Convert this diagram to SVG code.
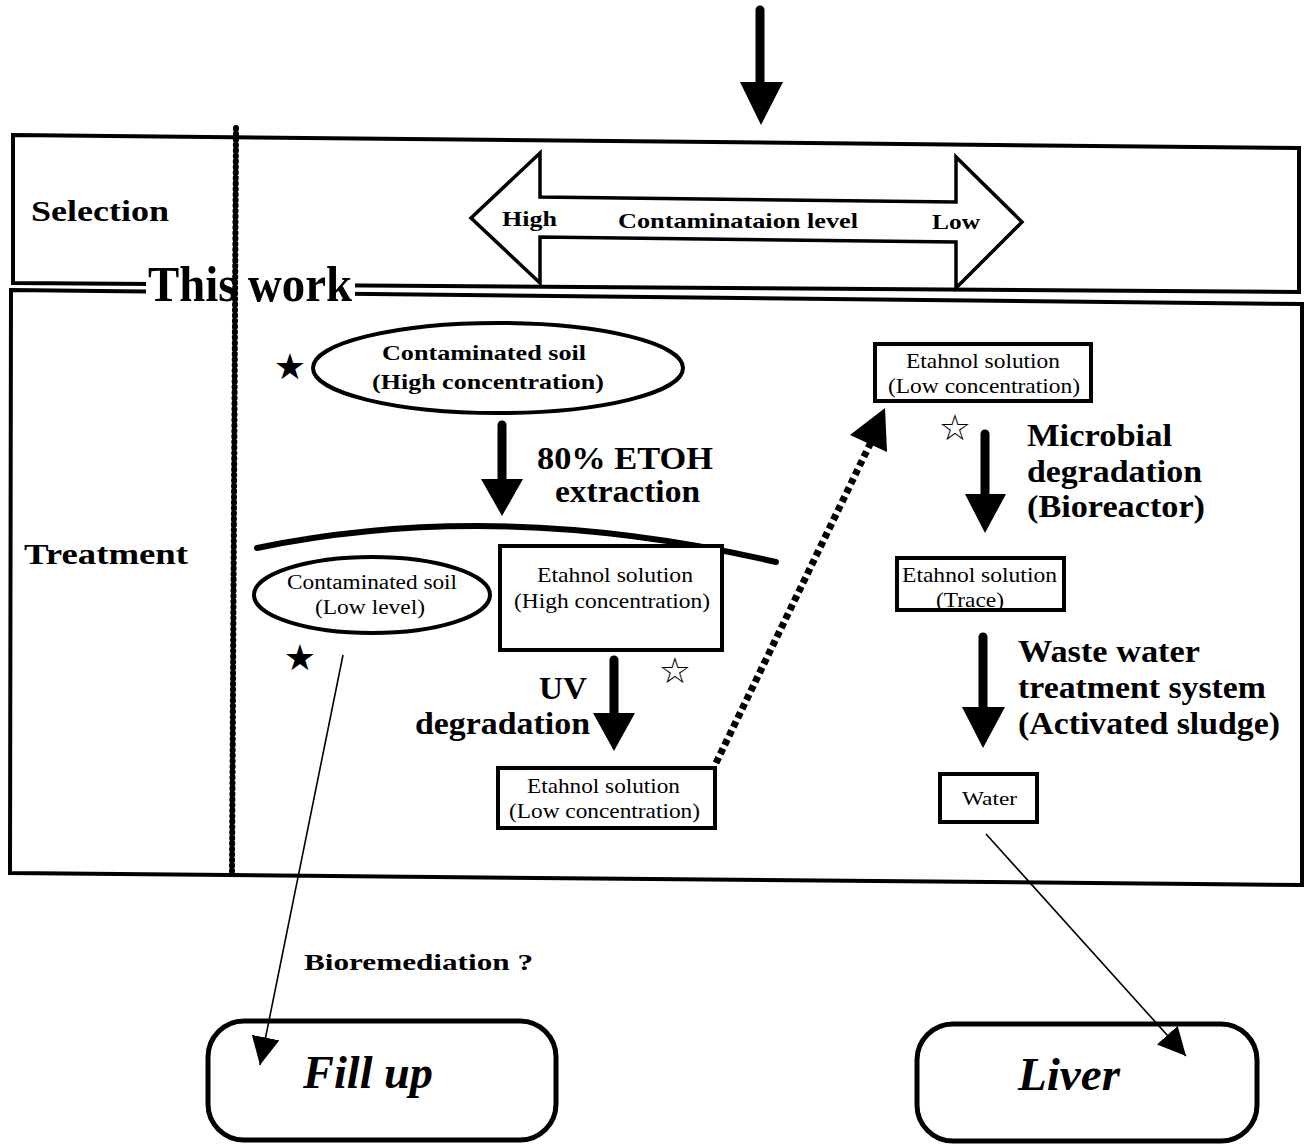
<svg xmlns="http://www.w3.org/2000/svg" width="1310" height="1144" viewBox="0 0 1310 1144">
<defs>
<style>
.b{font-family:"Liberation Serif","Times New Roman",serif;font-weight:bold;fill:#000}
.n{font-family:"Liberation Serif","Times New Roman",serif;fill:#000}
.box{fill:#fff;stroke:#000;stroke-width:4}
.thin{fill:none;stroke:#000;stroke-width:1.6}
.sym{font-family:"DejaVu Sans",sans-serif;fill:#000}
</style>
<marker id="ah" viewBox="0 0 10 10" refX="10" refY="5" markerWidth="28" markerHeight="28" markerUnits="userSpaceOnUse" orient="auto">
<path d="M0,0 L10,5 L0,10 z" fill="#000"/>
</marker>
</defs>
<rect width="1310" height="1144" fill="#fff"/>

<!-- frames -->
<g id="selection-panel">
<polygon points="13,135 1299,148 1299,292 13,283" fill="none" stroke="#000" stroke-width="4"/>
<text class="b" x="31" y="221" font-size="30" textLength="138" lengthAdjust="spacingAndGlyphs">Selection</text>
</g>
<g id="treatment-panel">
<polygon points="11,290 1302,304 1302,885 10,873" fill="none" stroke="#000" stroke-width="4"/>
<text class="b" x="24" y="564" font-size="30" textLength="164" lengthAdjust="spacingAndGlyphs">Treatment</text>
</g>
<g id="this-work">
<rect x="146" y="262" width="209" height="44" fill="#fff"/>
<line x1="236" y1="128" x2="232" y2="873" stroke="#000" stroke-width="6" stroke-linecap="round" stroke-dasharray="1 4.5"/>
<text class="b" x="148" y="301" font-size="50" textLength="204" lengthAdjust="spacingAndGlyphs">This work</text>
</g>

<g id="contamination-arrow">
<polygon points="471,218 540,153 540,197 956,202 956,157 1022,222 956,288 956,242 540,237 540,283" fill="#fff" stroke="#000" stroke-width="3.5" stroke-linejoin="miter"/>
<text class="b" x="502" y="226" font-size="22" textLength="55" lengthAdjust="spacingAndGlyphs">High</text>
<text class="b" x="618" y="228" font-size="22" textLength="240" lengthAdjust="spacingAndGlyphs">Contaminataion level</text>
<text class="b" x="932" y="229" font-size="22" textLength="48" lengthAdjust="spacingAndGlyphs">Low</text>
</g>

<!-- connectors -->
<g id="connectors">
<line x1="760" y1="10" x2="760" y2="84" stroke="#000" stroke-width="9" stroke-linecap="round"/>
<polygon points="740,82 783,82 761,125" fill="#000"/>

<line x1="502" y1="425" x2="502" y2="482" stroke="#000" stroke-width="9" stroke-linecap="round"/>
<polygon points="481,479 523,479 502,516" fill="#000"/>

<path d="M257,548 Q500,498 776,562" fill="none" stroke="#000" stroke-width="6" stroke-linecap="round"/>

<line x1="614" y1="660" x2="614" y2="716" stroke="#000" stroke-width="9" stroke-linecap="round"/>
<polygon points="593,713 635,713 614,751" fill="#000"/>

<line x1="716" y1="763" x2="872" y2="440" stroke="#000" stroke-width="7" stroke-dasharray="6 4"/>
<polygon points="885,408 887,452 850,435" fill="#000"/>

<line x1="985" y1="434" x2="985" y2="497" stroke="#000" stroke-width="9" stroke-linecap="round"/>
<polygon points="965,494 1006,494 985,533" fill="#000"/>

<line x1="983" y1="637" x2="983" y2="710" stroke="#000" stroke-width="9" stroke-linecap="round"/>
<polygon points="962,707 1005,707 983,748" fill="#000"/>

<line class="thin" x1="343" y1="655" x2="260" y2="1065" marker-end="url(#ah)"/>
<line class="thin" x1="986" y1="834" x2="1186" y2="1056" marker-end="url(#ah)"/>

<text class="b" x="537" y="469" font-size="32" textLength="176" lengthAdjust="spacingAndGlyphs">80% ETOH</text>
<text class="b" x="555" y="502" font-size="32" textLength="145" lengthAdjust="spacingAndGlyphs">extraction</text>
<text class="b" x="539" y="699" font-size="31" textLength="48" lengthAdjust="spacingAndGlyphs">UV</text>
<text class="b" x="415" y="734" font-size="31" textLength="175" lengthAdjust="spacingAndGlyphs">degradation</text>
<text class="b" x="1027" y="446" font-size="31" textLength="145" lengthAdjust="spacingAndGlyphs">Microbial</text>
<text class="b" x="1027" y="482" font-size="31" textLength="175" lengthAdjust="spacingAndGlyphs">degradation</text>
<text class="b" x="1027" y="517" font-size="31" textLength="178" lengthAdjust="spacingAndGlyphs">(Bioreactor)</text>
<text class="b" x="1018" y="662" font-size="31" textLength="182" lengthAdjust="spacingAndGlyphs">Waste water</text>
<text class="b" x="1018" y="698" font-size="31" textLength="248" lengthAdjust="spacingAndGlyphs">treatment system</text>
<text class="b" x="1018" y="734" font-size="31" textLength="262" lengthAdjust="spacingAndGlyphs">(Activated sludge)</text>
<text class="b" x="304" y="970" font-size="24" textLength="229" lengthAdjust="spacingAndGlyphs">Bioremediation ?</text>
</g>

<!-- nodes -->
<g id="soil-high">
<ellipse cx="498" cy="368" rx="185" ry="45" class="box"/>
<text class="b" x="382" y="360" font-size="22" textLength="204" lengthAdjust="spacingAndGlyphs">Contaminated soil</text>
<text class="b" x="372" y="389" font-size="22" textLength="232" lengthAdjust="spacingAndGlyphs">(High concentration)</text>
<text class="sym" x="290" y="379" font-size="36" text-anchor="middle">★</text>
</g>

<g id="soil-low">
<ellipse cx="372" cy="595" rx="118" ry="38" class="box"/>
<text class="n" x="287" y="589" font-size="20" textLength="170" lengthAdjust="spacingAndGlyphs">Contaminated soil</text>
<text class="n" x="315" y="614" font-size="20" textLength="110" lengthAdjust="spacingAndGlyphs">(Low level)</text>
<text class="sym" x="300" y="670" font-size="36" text-anchor="middle">★</text>
</g>

<g id="ethanol-high">
<rect x="500" y="546" width="222" height="104" class="box"/>
<text class="n" x="537" y="582" font-size="21" textLength="156" lengthAdjust="spacingAndGlyphs">Etahnol solution</text>
<text class="n" x="514" y="608" font-size="21" textLength="196" lengthAdjust="spacingAndGlyphs">(High concentration)</text>
<text class="sym" x="675" y="683" font-size="36" text-anchor="middle">☆</text>
</g>

<g id="ethanol-low-uv">
<rect x="498" y="768" width="217" height="60" class="box"/>
<text class="n" x="527" y="793" font-size="21" textLength="153" lengthAdjust="spacingAndGlyphs">Etahnol solution</text>
<text class="n" x="509" y="818" font-size="21" textLength="191" lengthAdjust="spacingAndGlyphs">(Low concentration)</text>
</g>

<g id="ethanol-low">
<rect x="875" y="344" width="216" height="57" class="box"/>
<text class="n" x="906" y="368" font-size="21" textLength="154" lengthAdjust="spacingAndGlyphs">Etahnol solution</text>
<text class="n" x="888" y="393" font-size="21" textLength="192" lengthAdjust="spacingAndGlyphs">(Low concentration)</text>
<text class="sym" x="955" y="440" font-size="36" text-anchor="middle">☆</text>
</g>

<g id="ethanol-trace">
<rect x="897" y="558" width="167" height="52" fill="#fff" stroke="none"/>
<text class="n" x="902" y="582" font-size="21" textLength="155" lengthAdjust="spacingAndGlyphs">Etahnol solution</text>
<text class="n" x="936" y="607" font-size="21" textLength="68" lengthAdjust="spacingAndGlyphs">(Trace)</text>
<rect x="897" y="558" width="167" height="52" fill="none" stroke="#000" stroke-width="4"/>
</g>

<g id="water">
<rect x="940" y="774" width="97" height="48" class="box"/>
<text class="n" x="962" y="805" font-size="19" textLength="55" lengthAdjust="spacingAndGlyphs">Water</text>
</g>

<g id="fill-up">
<rect x="208" y="1021" width="348" height="119" rx="36" ry="36" fill="none" stroke="#000" stroke-width="5"/>
<text class="b" x="303" y="1088" font-size="46" font-style="italic" textLength="130" lengthAdjust="spacingAndGlyphs">Fill up</text>
</g>

<g id="liver">
<rect x="917" y="1024" width="340" height="117" rx="36" ry="36" fill="none" stroke="#000" stroke-width="5"/>
<text class="b" x="1018" y="1090" font-size="46" font-style="italic" textLength="102" lengthAdjust="spacingAndGlyphs">Liver</text>
</g>
</svg>
